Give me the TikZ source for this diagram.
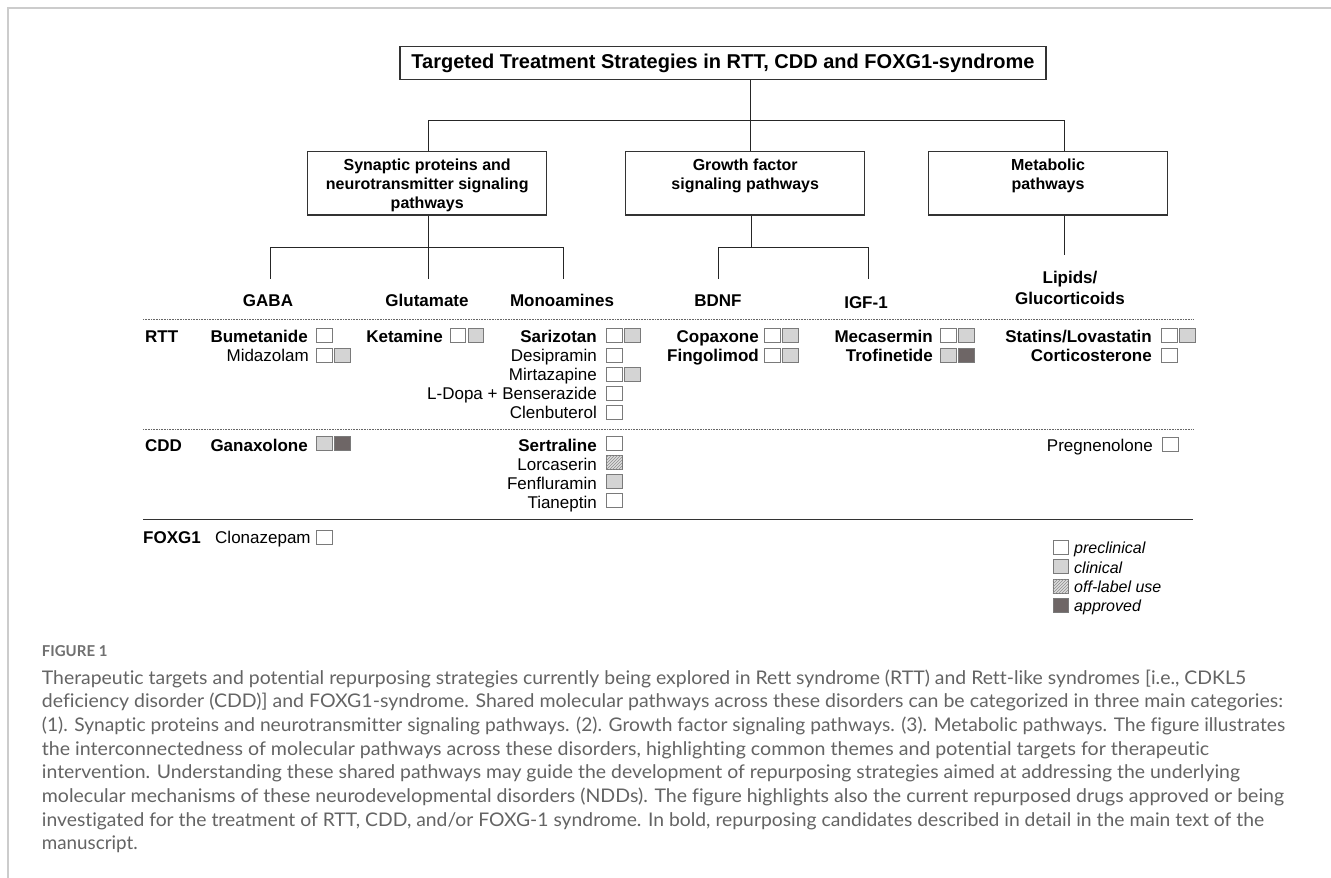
\documentclass[tikz,border=0pt]{standalone}
\usepackage{fontspec}
\usepackage{graphicx}
\setmainfont{Liberation Sans}
\newfontfamily\capfont[Ligatures=NoCommon]{Lato}
\usetikzlibrary{patterns}
\definecolor{boxedge}{HTML}{7A7A7A}
\definecolor{lightf}{HTML}{D4D4D4}
\definecolor{darkf}{HTML}{6E6666}
\definecolor{capgray}{HTML}{646464}
\definecolor{figgray}{HTML}{707070}
\definecolor{framegray}{HTML}{CCCCCC}
\newsavebox\capbox
\newcommand\fitcap[2]{\sbox\capbox{#2}\resizebox{#1}{\ht\capbox}{\usebox\capbox}}
\newcommand\sqbox[4]{\node[#1, anchor=west] (#2) at (#3,#4) {};}
\tikzset{
  catbox/.style={draw=black!80, line width=1.2pt, inner sep=0pt, minimum width=239pt, minimum height=63.3pt},
  cattext/.style={inner sep=0pt, align=center, font=\fontsize{16}{18.8}\selectfont\bfseries},
  conn/.style={draw=black!85, line width=0.9pt},
  sepdot/.style={draw=black!60, line width=0.8pt, dash pattern=on 0.8pt off 0.8pt},
  sepline/.style={draw=black!80, line width=1.2pt},
  sq/.style={draw=boxedge, line width=0.9pt, minimum width=15.5pt, minimum height=14pt, inner sep=0pt},
  sqw/.style={sq, fill=white},
  sqc/.style={sq, fill=lightf},
  sqa/.style={sq, fill=darkf},
  sqo/.style={sq, fill=lightf!80, postaction={pattern=north east lines, pattern color=black!45}},
  dr/.style={inner sep=0pt, anchor=base east, font=\fontsize{17}{20}\selectfont},
  drb/.style={inner sep=0pt, anchor=base east, font=\fontsize{17}{20}\selectfont\bfseries},
  rowlab/.style={inner sep=0pt, anchor=base west, font=\fontsize{17}{20}\selectfont\bfseries},
  catlab/.style={inner sep=0pt, anchor=base, font=\fontsize{17}{20}\selectfont\bfseries},
  legtxt/.style={inner sep=0pt, anchor=base west, font=\fontsize{16}{19}\selectfont\itshape},
  capline/.style={inner sep=0pt, anchor=base west, text=capgray, font=\capfont\fontsize{18.8}{24}\selectfont},
}
\begin{document}
\begin{tikzpicture}[x=1pt, y=-1pt]
\useasboundingbox (0,0) rectangle (1331,878);
\fill[white] (0,0) rectangle (1331,878);
% page frame
\draw[framegray, line width=2pt] (8,878) -- (8,8) -- (1331,8);

% title and category boxes
\node[draw=black!80, line width=1.2pt, inner sep=0pt, minimum width=646pt, minimum height=32.6pt,
      font=\fontsize{20}{22}\selectfont\bfseries] (title) at (723,63) {Targeted Treatment Strategies in RTT, CDD and FOXG1-syndrome};
\node[catbox] (syn) at (427.2,183.4) {};
\node[catbox] (grow) at (745.2,183.4) {};
\node[catbox] (meta) at (1048,183.4) {};
\node[cattext] (syntx) at (427.2,185.5) {Synaptic proteins and\\neurotransmitter signaling\\pathways};
\node[cattext] (growtx) at (745.2,176) {Growth factor\\signaling pathways};
\node[cattext] (metatx) at (1048,176) {Metabolic\\pathways};

% upper tree
\coordinate (jt) at (750,120);
\coordinate (jl) at (428,120);
\coordinate (jr) at (1064,120);
\draw[conn] (title.south -| jt) -- (jt);
\draw[conn] (jl) -- (jr);
\draw[conn] (jl) -- (syn.north -| jl);
\draw[conn] (jt) -- (grow.north -| jt);
\draw[conn] (jr) -- (meta.north -| jr);

% lower tree
\coordinate (s0) at (428,247); \coordinate (sL) at (270,247); \coordinate (sR) at (563,247);
\coordinate (gabaT) at (270,279); \coordinate (gluT) at (428,279); \coordinate (monoT) at (563,279);
\draw[conn] (syn.south -| s0) -- (gluT);
\draw[conn] (sL) -- (sR);
\draw[conn] (sL) -- (gabaT);
\draw[conn] (sR) -- (monoT);
\coordinate (g0) at (751,247); \coordinate (gL) at (718,247); \coordinate (gR) at (868,247);
\coordinate (bdnfT) at (718,279); \coordinate (igfT) at (868,279);
\draw[conn] (grow.south -| g0) -- (g0);
\draw[conn] (gL) -- (gR);
\draw[conn] (gL) -- (bdnfT);
\draw[conn] (gR) -- (igfT);
\coordinate (m0) at (1064,255);
\draw[conn] (meta.south -| m0) -- (m0);

% category labels
\node[catlab] (gaba) at (268,306) {GABA};
\node[catlab] (glu) at (427,306) {Glutamate};
\node[catlab] (mono) at (562,306) {Monoamines};
\node[catlab] (bdnf) at (718,306) {BDNF};
\node[catlab] (igf) at (866,308) {IGF-1};
\node[catlab] (lip) at (1070,283) {Lipids/};
\node[catlab] (gluc) at (1070,304) {Glucorticoids};

% separators
\draw[sepdot] (143,319.3) -- (1193,319.3);
\draw[sepdot] (143,429) -- (1193,429);
\draw[sepline] (143,519.3) -- (1193,519.3);

% row labels
\node[rowlab] (rtt) at (145,342) {RTT};
\node[rowlab] (cdd) at (145,451) {CDD};
\node[rowlab] (foxg) at (143,543) {FOXG1};

% RTT - GABA
\node[drb] (bum) at (308,342) {Bumetanide};
\sqbox{sqw}{bum1}{316}{335.5}
\node[dr] (mid) at (309,361.5) {Midazolam};
\sqbox{sqw}{mid1}{316}{355}
\sqbox{sqc}{mid2}{334.3}{355}
% RTT - Glutamate
\node[drb] (ket) at (443,342) {Ketamine};
\sqbox{sqw}{ket1}{449.5}{335.5}
\sqbox{sqc}{ket2}{467.7}{335.5}
% RTT - Monoamines
\node[drb] (sar) at (597,342) {Sarizotan};
\sqbox{sqw}{sar1}{606}{335.5}
\sqbox{sqc}{sar2}{624.3}{335.5}
\node[dr] (des) at (597,361.5) {Desipramin};
\sqbox{sqw}{des1}{606}{355}
\node[dr] (mir) at (597,380.5) {Mirtazapine};
\sqbox{sqw}{mir1}{606}{374}
\sqbox{sqc}{mir2}{624.3}{374}
\node[dr] (ldo) at (597,399.5) {L-Dopa + Benserazide};
\sqbox{sqw}{ldo1}{606}{393}
\node[dr] (cle) at (597,418.5) {Clenbuterol};
\sqbox{sqw}{cle1}{606}{412}
% RTT - BDNF
\node[drb] (cop) at (759,342) {Copaxone};
\sqbox{sqw}{cop1}{764}{335.5}
\sqbox{sqc}{cop2}{782.3}{335.5}
\node[drb] (fin) at (759,361.5) {Fingolimod};
\sqbox{sqw}{fin1}{764}{355}
\sqbox{sqc}{fin2}{782.3}{355}
% RTT - IGF-1
\node[drb] (mec) at (933,342) {Mecasermin};
\sqbox{sqw}{mec1}{940}{335.5}
\sqbox{sqc}{mec2}{958.3}{335.5}
\node[drb] (tro) at (933,361.5) {Trofinetide};
\sqbox{sqc}{tro1}{940}{355}
\sqbox{sqa}{tro2}{958.3}{355}
% RTT - Lipids
\node[drb] (sta) at (1152,342) {Statins/Lovastatin};
\sqbox{sqw}{sta1}{1161}{335.5}
\sqbox{sqc}{sta2}{1179.3}{335.5}
\node[drb] (cor) at (1152,361.5) {Corticosterone};
\sqbox{sqw}{cor1}{1161}{355}

% CDD
\node[drb] (gan) at (308,451) {Ganaxolone};
\sqbox{sqc}{gan1}{316}{443.5}
\sqbox{sqa}{gan2}{334.3}{443.5}
\node[drb] (ser) at (597,451) {Sertraline};
\sqbox{sqw}{ser1}{606}{443}
\node[dr] (lor) at (597,470) {Lorcaserin};
\sqbox{sqo}{lor1}{606}{462}
\node[dr] (fen) at (597,489) {Fenfluramin};
\sqbox{sqc}{fen1}{606}{481}
\node[dr] (tia) at (597,508) {Tianeptin};
\sqbox{sqw}{tia1}{606}{500.5}
\node[dr] (pre) at (1153,451) {Pregnenolone};
\sqbox{sqw}{pre1}{1162}{444}

% FOXG1
\node[dr, anchor=base west] (clo) at (215,543) {Clonazepam};
\sqbox{sqw}{clo1}{316}{537}

% legend
\sqbox{sqw}{lg1}{1052.5}{547}
\sqbox{sqc}{lg2}{1052.5}{566.5}
\sqbox{sqo}{lg3}{1052.5}{586}
\sqbox{sqa}{lg4}{1052.5}{605.5}
\node[legtxt] (lt1) at (1074,553) {preclinical};
\node[legtxt] (lt2) at (1074,573) {clinical};
\node[legtxt] (lt3) at (1074,592.5) {off-label use};
\node[legtxt] (lt4) at (1074,611) {approved};

% caption
\node[inner sep=0pt, anchor=base west, text=figgray, font=\capfont\bfseries\fontsize{15}{18}\selectfont] (fig) at (41.7,656.7) {FIGURE 1};
\node[capline] (c1) at (41.7,684) {\fitcap{1204pt}{Therapeutic targets and potential repurposing strategies currently being explored in Rett syndrome (RTT) and Rett-like syndromes [i.e., CDKL5}};
\node[capline] (c2) at (41.7,707.7) {\fitcap{1241pt}{deficiency disorder (CDD)] and FOXG1-syndrome. Shared molecular pathways across these disorders can be categorized in three main categories:}};
\node[capline] (c3) at (41.7,731.4) {\fitcap{1243pt}{(1). Synaptic proteins and neurotransmitter signaling pathways. (2). Growth factor signaling pathways. (3). Metabolic pathways. The figure illustrates}};
\node[capline] (c4) at (41.7,755.1) {\fitcap{1167pt}{the interconnectedness of molecular pathways across these disorders, highlighting common themes and potential targets for therapeutic}};
\node[capline] (c5) at (41.7,778.8) {\fitcap{1198pt}{intervention. Understanding these shared pathways may guide the development of repurposing strategies aimed at addressing the underlying}};
\node[capline] (c6) at (41.7,802.5) {\fitcap{1242pt}{molecular mechanisms of these neurodevelopmental disorders (NDDs). The figure highlights also the current repurposed drugs approved or being}};
\node[capline] (c7) at (41.7,826.2) {\fitcap{1222pt}{investigated for the treatment of RTT, CDD, and/or FOXG-1 syndrome. In bold, repurposing candidates described in detail in the main text of the}};
\node[capline] (c8) at (41.7,849.9) {manuscript.};
\end{tikzpicture}
\end{document}
